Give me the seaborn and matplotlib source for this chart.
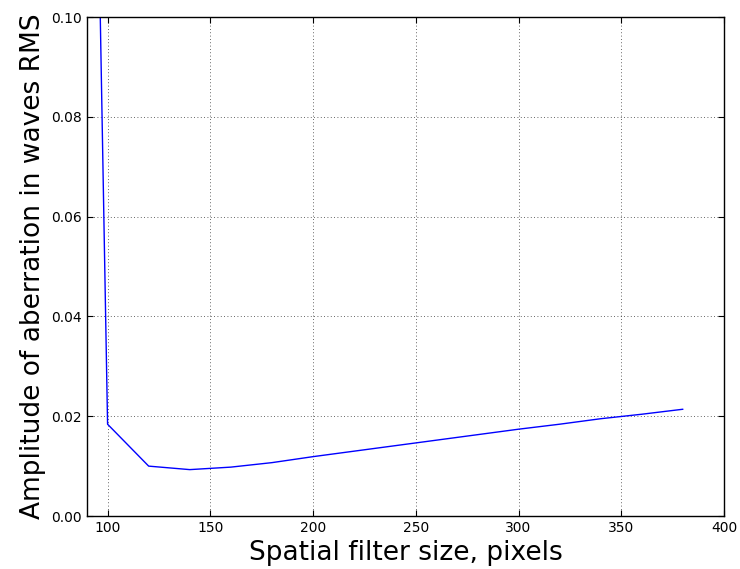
import matplotlib
matplotlib.use("Agg")
import matplotlib.pyplot as plt
import seaborn as sns
import pandas as pd

# Residual aberration vs. spatial filter size
filter_size = [90, 100, 120, 140, 160, 180, 200, 220, 240, 260, 280, 300, 320, 340, 360, 380]
amplitude_rms = [0.248, 0.0184, 0.0100, 0.0093, 0.0098, 0.0107, 0.0119, 0.0130, 0.0141,
                 0.0152, 0.0163, 0.0174, 0.0184, 0.0195, 0.0204, 0.0214]

df = pd.DataFrame({"size": filter_size, "amp": amplitude_rms})

sns.set_style("white")
plt.rcParams["font.family"] = ["DejaVu Sans"]
plt.rcParams.update({
    "xtick.direction": "in", "ytick.direction": "in",
    "xtick.top": True, "ytick.right": True,
    "xtick.major.size": 4, "ytick.major.size": 4,
    "xtick.bottom": True, "ytick.left": True,
    "text.color": "black", "axes.labelcolor": "black",
})

fig = plt.figure(figsize=(7.4, 5.69), dpi=100)
ax = fig.add_axes([0.1176, 0.0931, 0.8608, 0.8770])

sns.lineplot(data=df, x="size", y="amp", ax=ax, color="#0000ff", linewidth=1.0)

ax.set_xlim(90, 400)
ax.set_ylim(0, 0.1)
ax.set_xticks([100, 150, 200, 250, 300, 350, 400])
ax.set_yticks([0.0, 0.02, 0.04, 0.06, 0.08, 0.10])
ax.set_yticklabels(["0.00", "0.02", "0.04", "0.06", "0.08", "0.10"])
ax.tick_params(labelsize=10, colors="black", width=0.8)
ax.grid(True, linestyle=(0, (1, 3)), color="black", linewidth=0.6, alpha=0.8)
for s in ax.spines.values():
    s.set_color("black")
    s.set_linewidth(1.0)

ax.set_xlabel("Spatial filter size, pixels", fontsize=19, labelpad=4, color="black")
ax.set_ylabel("Amplitude of aberration in waves RMS", fontsize=19, labelpad=4, color="black")

fig.savefig("out.png", dpi=100, facecolor="white")
